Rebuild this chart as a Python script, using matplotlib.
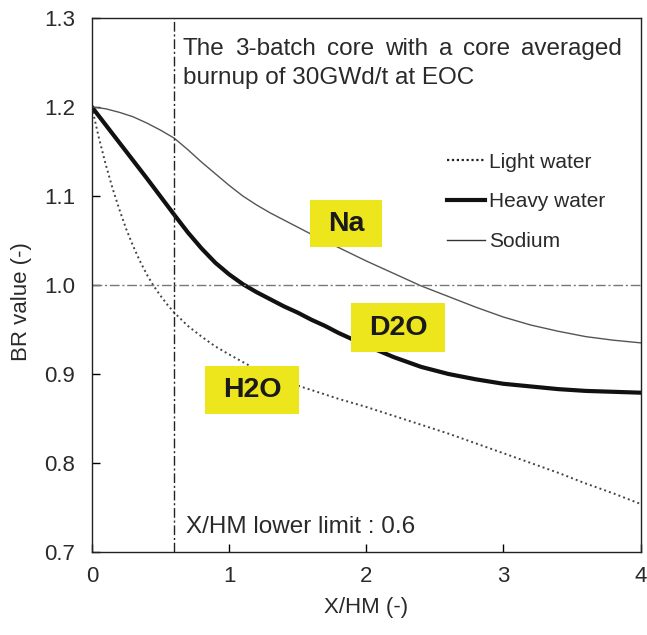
import matplotlib
matplotlib.use("Agg")
import matplotlib.pyplot as plt
from matplotlib.patches import Rectangle
from matplotlib.lines import Line2D

plt.rcParams['font.family'] = ['Liberation Sans', 'DejaVu Sans']

# BR value vs X/HM for the three coolants
x_light = [0, 0.05, 0.1, 0.15, 0.2, 0.25, 0.3, 0.35, 0.4, 0.45, 0.5, 0.55,
           0.6, 0.7, 0.8, 0.9, 1.0, 1.2, 1.4, 1.6, 1.8, 2.0, 2.2, 2.4, 2.6,
           2.8, 3.0, 3.2, 3.4, 3.6, 3.8, 4.0]
br_light = [1.200, 1.166, 1.136, 1.109, 1.085, 1.063, 1.044, 1.027, 1.012,
            0.999, 0.988, 0.978, 0.969, 0.954, 0.942, 0.931, 0.922, 0.905,
            0.892, 0.882, 0.872, 0.863, 0.853, 0.843, 0.833, 0.822, 0.811,
            0.800, 0.789, 0.777, 0.766, 0.754]

x_heavy = [0, 0.2, 0.4, 0.6, 0.7, 0.8, 0.9, 1.0, 1.1, 1.2, 1.3, 1.4, 1.5,
           1.6, 1.7, 1.8, 1.9, 2.0, 2.2, 2.4, 2.6, 2.8, 3.0, 3.2, 3.4, 3.6,
           3.8, 4.0]
br_heavy = [1.200, 1.160, 1.120, 1.079, 1.059, 1.041, 1.025, 1.012, 1.001,
            0.992, 0.984, 0.976, 0.969, 0.961, 0.954, 0.946, 0.939, 0.932,
            0.919, 0.908, 0.900, 0.894, 0.889, 0.886, 0.883, 0.881, 0.880,
            0.879]

x_sodium = [0, 0.1, 0.2, 0.3, 0.4, 0.5, 0.6, 0.7, 0.8, 0.9, 1.0, 1.1, 1.2,
            1.3, 1.4, 1.5, 1.6, 1.8, 2.0, 2.2, 2.4, 2.6, 2.8, 3.0, 3.2, 3.4,
            3.6, 3.8, 4.0]
br_sodium = [1.200, 1.198, 1.194, 1.189, 1.182, 1.174, 1.165, 1.152, 1.138,
             1.125, 1.112, 1.100, 1.090, 1.081, 1.073, 1.065, 1.057, 1.042,
             1.027, 1.013, 0.999, 0.987, 0.975, 0.964, 0.955, 0.948, 0.942,
             0.938, 0.935]

xhm_limit = 0.6
br_one = 1.0

xticks = [0, 1, 2, 3, 4]
yticks = [0.7, 0.8, 0.9, 1.0, 1.1, 1.2, 1.3]

# coolant tags: text, centre x, centre y, box width, box height (data units)
tags = [("Na", 1.854, 1.069, 0.525, 0.053),
        ("D2O", 2.234, 0.952, 0.686, 0.055),
        ("H2O", 1.168, 0.882, 0.686, 0.054)]

fig = plt.figure(figsize=(6.47, 6.35), dpi=100)
ax = fig.add_axes([0.142, 0.1307, 0.848, 0.841])

ax.plot(x_light, br_light, color='#444444', lw=1.4, ls=(0, (1, 1.6)))
ax.plot(x_heavy, br_heavy, color='#111111', lw=3.0)
ax.plot(x_sodium, br_sodium, color='#555555', lw=1.0)

ax.axvline(xhm_limit, color='#222222', lw=1.0, dashes=(7, 2, 1.5, 2))
ax.axhline(br_one, color='#777777', lw=1.0, dashes=(7, 2, 1.5, 2))

ax.set_xlim(0, 4)
ax.set_ylim(0.7, 1.3)
ax.set_xticks(xticks)
ax.set_xticklabels([str(t) for t in xticks])
ax.set_yticks(yticks)
ax.set_yticklabels(['%.1f' % t for t in yticks])
ax.tick_params(axis='x', direction='in', length=6, width=1.0, pad=10,
               labelsize=16, labelcolor='#2a2a2a')
ax.tick_params(axis='y', direction='in', length=6, width=1.0, pad=12,
               labelsize=16, labelcolor='#2a2a2a')
for s in ax.spines.values():
    s.set_linewidth(1.0)
    s.set_color('#222222')

ax.set_xlabel('X/HM (-)', fontsize=16, color='#2a2a2a', labelpad=7)
ax.set_ylabel('BR value (-)', fontsize=16, color='#2a2a2a')
ax.yaxis.set_label_coords(-0.109, 0.469)

# legend
handles = [Line2D([], [], color='#222222', lw=1.6, ls=(0, (1, 1.2))),
           Line2D([], [], color='#111111', lw=3.0),
           Line2D([], [], color='#333333', lw=1.0)]
ax.legend(handles, ['Light water', 'Heavy water', 'Sodium'],
          loc='upper left', bbox_to_anchor=(0.648, 0.748), frameon=False,
          fontsize=15, handlelength=1.8, handletextpad=0.2, labelspacing=0.99,
          borderpad=0, borderaxespad=0, labelcolor='#2a2a2a')

# justified first line of the note
fig.canvas.draw()
renderer = fig.canvas.get_renderer()
words = "The 3-batch core with a core averaged".split()
line_w = 439
widths = []
for w in words:
    t = ax.text(0, 0, w, fontsize=17.5)
    widths.append(t.get_window_extent(renderer).width)
    t.remove()
gap = (line_w - sum(widths)) / (len(words) - 1)
xoff = 0
for w, wd in zip(words, widths):
    ax.annotate(w, xy=(0.1655, 0.9307), xycoords='axes fraction',
                xytext=(xoff, 0), textcoords='offset pixels',
                fontsize=17.5, color='#2a2a2a', va='baseline', ha='left')
    xoff += wd + gap
ax.text(0.1655, 0.876, "burnup of 30GWd/t at EOC", transform=ax.transAxes,
        fontsize=17.5, color='#2a2a2a', va='baseline', ha='left')

ax.text(0.171, 0.0356, "X/HM lower limit : 0.6", transform=ax.transAxes,
        fontsize=17.5, color='#2a2a2a', va='baseline', ha='left')

for name, cx, cy, w, h in tags:
    ax.add_patch(Rectangle((cx - w / 2, cy - h / 2), w, h,
                           facecolor='#eee61c', edgecolor='none', zorder=4))
    ax.text(cx, cy, name, fontsize=20.5, fontweight='bold', color='#1a1a1a',
            ha='center', va='center', zorder=5)

fig.savefig('out.png', dpi=100)
